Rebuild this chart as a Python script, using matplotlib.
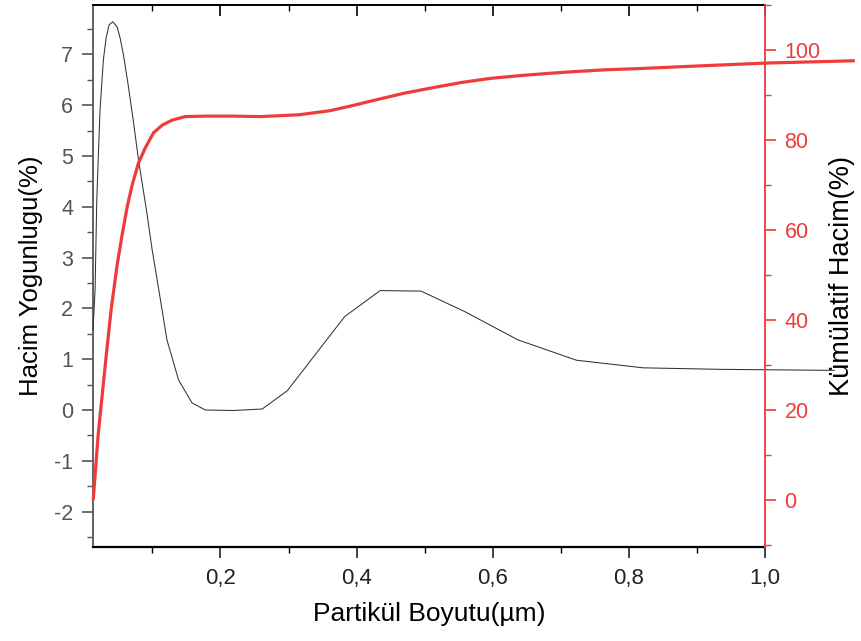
import matplotlib
matplotlib.use('Agg')
import matplotlib.pyplot as plt
from matplotlib.ticker import MultipleLocator, FixedLocator, FixedFormatter

plt.rcParams['font.family'] = ['Liberation Sans', 'DejaVu Sans']
plt.rcParams['axes.unicode_minus'] = False

# Volume density (left axis)
size_density = [0.0128, 0.0158, 0.0183, 0.0209, 0.0231, 0.0280, 0.0320, 0.0364,
                0.0418, 0.0482, 0.0526, 0.0575, 0.0644, 0.0722, 0.0796, 0.0919,
                0.0997, 0.1090, 0.1214, 0.1385, 0.1582, 0.1778, 0.2191, 0.2614,
                0.2982, 0.3826, 0.4346, 0.4946, 0.5584, 0.6371, 0.7229, 0.8212,
                0.9366, 1.1016]
density = [1.57, 2.36, 4.13, 5.12, 5.91, 6.89, 7.32, 7.58,
           7.64, 7.54, 7.32, 6.99, 6.40, 5.67, 4.92, 3.88,
           3.15, 2.40, 1.38, 0.59, 0.14, 0.00, -0.01, 0.02,
           0.38, 1.84, 2.35, 2.34, 1.94, 1.38, 0.98, 0.83,
           0.80, 0.78]

# Cumulative volume (right axis)
size_cum = [0.0133, 0.0206, 0.0305, 0.0393, 0.0482, 0.0555, 0.0636, 0.0703,
            0.0796, 0.0894, 0.1017, 0.1145, 0.1288, 0.1484, 0.1778, 0.2191,
            0.2589, 0.3153, 0.3604, 0.3900, 0.4280, 0.4700, 0.5182, 0.5550,
            0.5970, 0.6400, 0.6815, 0.7200, 0.7661, 0.8200, 0.8788, 0.9400,
            1.0029, 1.1296]
cumulative = [0.4, 14.9, 29.6, 42.2, 52.2, 58.9, 65.6, 70.0,
              74.9, 78.2, 81.6, 83.3, 84.4, 85.2, 85.3, 85.3,
              85.2, 85.6, 86.5, 87.5, 88.9, 90.4, 91.8, 92.8,
              93.7, 94.3, 94.8, 95.2, 95.6, 95.9, 96.3, 96.7,
              97.1, 97.6]

x_ticks = [0.2, 0.4, 0.6, 0.8, 1.0]
x_tick_labels = ['0,2', '0,4', '0,6', '0,8', '1,0']
left_ticks = [-2, -1, 0, 1, 2, 3, 4, 5, 6, 7]
right_ticks = [0, 20, 40, 60, 80, 100]

x_label = 'Partikül Boyutu(µm)'
left_label = 'Hacim Yogunlugu(%)'
right_label = 'Kümülatif Hacim(%)'

RED = '#ef3b3b'
GREY = '#555555'

fig = plt.figure(figsize=(8.62, 6.41), dpi=100)
ax = fig.add_axes([0.1076, 0.1471, 0.7799, 0.8451])

ax.plot(size_density, density, color='#333333', lw=0.75, clip_on=False, zorder=3)
ax.set_xlim(0.0124, 1.0)
ax.set_ylim(-2.69, 7.97)

ax.xaxis.set_major_locator(FixedLocator(x_ticks))
ax.xaxis.set_major_formatter(FixedFormatter(x_tick_labels))
ax.xaxis.set_minor_locator(MultipleLocator(0.1))
ax.yaxis.set_major_locator(FixedLocator(left_ticks))
ax.yaxis.set_minor_locator(MultipleLocator(0.5))

ax.tick_params(axis='x', which='major', direction='out', length=8, width=1.2,
               labelsize=16, pad=7, colors='#222222')
ax.tick_params(axis='x', which='minor', direction='out', length=4, width=1.0)
ax.tick_params(axis='y', which='major', direction='out', length=8, width=1.2,
               labelsize=15.5, pad=6, colors=GREY)
ax.tick_params(axis='y', which='minor', direction='out', length=4, width=1.0, colors=GREY)

ax.spines['right'].set_visible(False)
ax.spines['left'].set_color(GREY)
ax.spines['left'].set_linewidth(1.3)
ax.spines['bottom'].set_linewidth(1.6)
ax.spines['top'].set_linewidth(1.3)

sec = ax.secondary_xaxis('top')
sec.xaxis.set_major_locator(FixedLocator(x_ticks))
sec.xaxis.set_minor_locator(MultipleLocator(0.1))
sec.tick_params(axis='x', which='major', direction='in', length=8, width=1.2, labeltop=False)
sec.tick_params(axis='x', which='minor', direction='in', length=4, width=1.0)
sec.spines['top'].set_linewidth(1.3)

ax.set_xlabel(x_label, fontsize=19, labelpad=10)
ax.set_ylabel(left_label, fontsize=18.5, labelpad=8)

ax2 = ax.twinx()
ax2.plot(size_cum, cumulative, color=RED, lw=2.3, clip_on=False, zorder=4,
         solid_joinstyle='round')
ax2.set_ylim(-10.4, 110.0)
ax2.yaxis.set_major_locator(FixedLocator(right_ticks))
ax2.yaxis.set_minor_locator(MultipleLocator(10))
ax2.tick_params(axis='y', which='major', direction='out', length=8, width=1.2,
                labelsize=15.5, pad=6, colors=RED)
ax2.tick_params(axis='y', which='minor', direction='out', length=4, width=1.0, colors=RED)
for s in ['left', 'top', 'bottom']:
    ax2.spines[s].set_visible(False)
ax2.spines['right'].set_color(RED)
ax2.spines['right'].set_linewidth(1.3)
ax2.set_ylabel(right_label, fontsize=19.5, labelpad=6, color='black')

fig.savefig('out.png', dpi=100)
